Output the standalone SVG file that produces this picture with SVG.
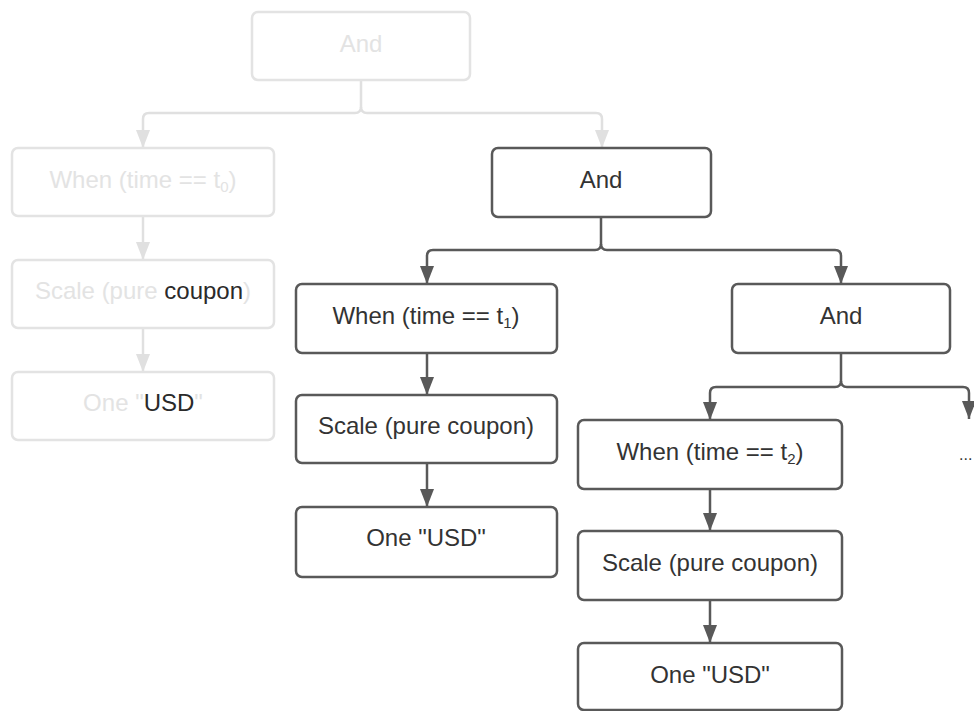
<svg xmlns="http://www.w3.org/2000/svg" width="974" height="711" viewBox="0 0 974 711">
<style>
  .box { fill: #ffffff; stroke: #595959; stroke-width: 2.5; }
  .fbox { fill: #ffffff; stroke: #e3e3e3; stroke-width: 2.5; }
  .t { font-family: "Liberation Sans", Arial, sans-serif; font-size: 24px; fill: #333333; text-anchor: middle; }
  .ft { font-family: "Liberation Sans", Arial, sans-serif; font-size: 24px; fill: #e3e3e3; text-anchor: middle; }
  .dk { fill: #2a2a2a; }
  .sub { font-size: 15px; }
  .c { fill: none; stroke: #595959; stroke-width: 2.5; }
  .fc { fill: none; stroke: #e0e0e0; stroke-width: 2.5; }
</style>
<defs>
  <marker id="ad" markerUnits="userSpaceOnUse" markerWidth="18" markerHeight="14" viewBox="0 0 18 14" refX="18" refY="7" orient="auto">
    <path d="M0,0 L18,7 L0,14 Z" fill="#595959"/>
  </marker>
  <marker id="al" markerUnits="userSpaceOnUse" markerWidth="18" markerHeight="14" viewBox="0 0 18 14" refX="18" refY="7" orient="auto">
    <path d="M0,0 L18,7 L0,14 Z" fill="#e0e0e0"/>
  </marker>
</defs>
<rect width="974" height="711" fill="#ffffff"/>

<g id="connectors">
  <!-- faded tree -->
  <path class="fc" d="M361,80 V107 Q361,113 355,113 H149 Q143,113 143,119 V148" marker-end="url(#al)"/>
  <path class="fc" d="M361,107 Q361,113 367,113 H596 Q602,113 602,119 V148" marker-end="url(#al)"/>
  <path class="fc" d="M143,216 V260" marker-end="url(#al)"/>
  <path class="fc" d="M143,328 V372" marker-end="url(#al)"/>
  <!-- middle And -->
  <path class="c" d="M601,217 V244 Q601,250 595,250 H433 Q427,250 427,256 V284" marker-end="url(#ad)"/>
  <path class="c" d="M601,244 Q601,250 607,250 H835 Q841,250 841,256 V284" marker-end="url(#ad)"/>
  <path class="c" d="M427,353 V395" marker-end="url(#ad)"/>
  <path class="c" d="M427,463 V507" marker-end="url(#ad)"/>
  <!-- right And -->
  <path class="c" d="M841,353 V381 Q841,387 835,387 H716 Q710,387 710,393 V420" marker-end="url(#ad)"/>
  <path class="c" d="M841,381 Q841,387 847,387 H963 Q969,387 969,393 V419" marker-end="url(#ad)"/>
  <path class="c" d="M710,489 V531" marker-end="url(#ad)"/>
  <path class="c" d="M710,600 V643" marker-end="url(#ad)"/>
</g>

<g id="and0">
  <rect class="fbox" x="252" y="12" width="218" height="68" rx="6"/>
  <text class="ft" x="361" y="52">And</text>
</g>
<g id="when0">
  <rect class="fbox" x="12" y="148" width="262" height="68" rx="6"/>
  <text class="ft" x="143" y="188">When (time == t<tspan class="sub" dy="4">0</tspan><tspan dy="-4">)</tspan></text>
</g>
<g id="scale0">
  <rect class="fbox" x="12" y="260" width="262" height="68" rx="6"/>
  <text class="ft" x="143" y="299">Scale (pure <tspan class="dk">coupon</tspan>)</text>
</g>
<g id="one0">
  <rect class="fbox" x="12" y="372" width="262" height="68" rx="6"/>
  <text class="ft" x="143" y="411">One "<tspan class="dk">USD</tspan>"</text>
</g>

<g id="and1">
  <rect class="box" x="492" y="148" width="219" height="69" rx="6"/>
  <text class="t" x="601" y="188">And</text>
</g>
<g id="when1">
  <rect class="box" x="296" y="284" width="261" height="69" rx="6"/>
  <text class="t" x="426" y="324">When (time == t<tspan class="sub" dy="4">1</tspan><tspan dy="-4">)</tspan></text>
</g>
<g id="scale1">
  <rect class="box" x="296" y="395" width="261" height="68" rx="6"/>
  <text class="t" x="426" y="434">Scale (pure coupon)</text>
</g>
<g id="one1">
  <rect class="box" x="296" y="507" width="261" height="70" rx="6"/>
  <text class="t" x="426" y="546">One "USD"</text>
</g>

<g id="and2">
  <rect class="box" x="732" y="284" width="218" height="69" rx="6"/>
  <text class="t" x="841" y="324">And</text>
</g>
<g id="when2">
  <rect class="box" x="578" y="420" width="264" height="69" rx="6"/>
  <text class="t" x="710" y="460">When (time == t<tspan class="sub" dy="4">2</tspan><tspan dy="-4">)</tspan></text>
</g>
<g id="scale2">
  <rect class="box" x="578" y="531" width="264" height="69" rx="6"/>
  <text class="t" x="710" y="571">Scale (pure coupon)</text>
</g>
<g id="one2">
  <rect class="box" x="578" y="643" width="264" height="67" rx="6"/>
  <text class="t" x="710" y="683">One "USD"</text>
</g>

<g id="more">
  <text class="t" x="959" y="460" style="text-anchor:start;font-size:16px">...</text>
</g>
</svg>
